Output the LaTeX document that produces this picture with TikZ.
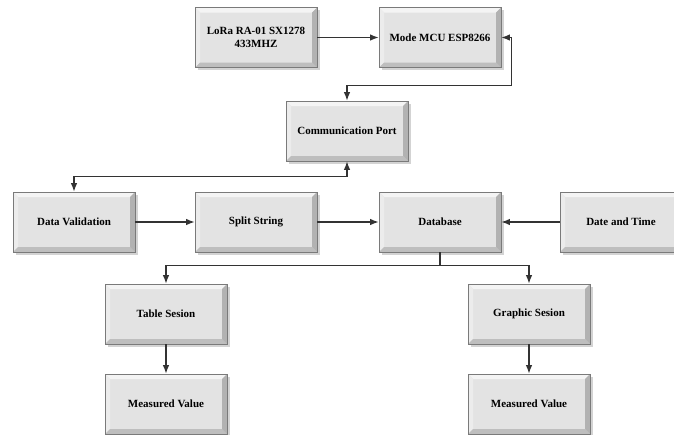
\documentclass[tikz,border=0pt]{standalone}
\usepackage{fontspec}
\setmainfont{Liberation Serif}
\usetikzlibrary{arrows.meta,shadows}

\definecolor{boxface}{HTML}{E3E3E3}
\definecolor{boxtop}{HTML}{F4F4F4}
\definecolor{boxleft}{HTML}{ECECEC}
\definecolor{boxbottom}{HTML}{BEBEBE}
\definecolor{boxright}{HTML}{B2B2B2}
\definecolor{boxline}{HTML}{7A7A7A}
\definecolor{wire}{HTML}{333333}

\tikzset{
  block/.style={draw=boxline, line width=0.8pt, fill=boxface,
    minimum width=122pt, minimum height=60pt, inner sep=0pt,
    align=center, font=\bfseries\fontsize{11}{13}\selectfont,
    drop shadow={shadow xshift=2.5pt, shadow yshift=-2.5pt, opacity=0.35},
    path picture={
      \fill[boxtop] (path picture bounding box.north west) -- (path picture bounding box.north east)
        -- ([shift={(-5pt,-5pt)}]path picture bounding box.north east)
        -- ([shift={(5pt,-5pt)}]path picture bounding box.north west) -- cycle;
      \fill[boxleft] (path picture bounding box.north west) -- (path picture bounding box.south west)
        -- ([shift={(5pt,5pt)}]path picture bounding box.south west)
        -- ([shift={(5pt,-5pt)}]path picture bounding box.north west) -- cycle;
      \fill[boxbottom] (path picture bounding box.south west) -- (path picture bounding box.south east)
        -- ([shift={(-5pt,5pt)}]path picture bounding box.south east)
        -- ([shift={(5pt,5pt)}]path picture bounding box.south west) -- cycle;
      \fill[boxright] (path picture bounding box.north east) -- (path picture bounding box.south east)
        -- ([shift={(-5pt,5pt)}]path picture bounding box.south east)
        -- ([shift={(-5pt,-5pt)}]path picture bounding box.north east) -- cycle;
    }},
  wire/.style={draw=wire, line width=1.1pt, -{Latex[length=8.5pt,width=6.5pt]}},
  wire2/.style={draw=wire, line width=1.1pt, {Latex[length=8.5pt,width=6.5pt]}-{Latex[length=8.5pt,width=6.5pt]}}
}

\begin{document}
\begin{tikzpicture}[x=1pt,y=-1pt]
\useasboundingbox (0,0) rectangle (674,434);

% top row
\node[block] (lora) at (256,37.5) {LoRa RA-01 SX1278\\433MHZ};
\node[block] (mcu) at (440,37.5) {Mode MCU ESP8266};
\node[block] (port) at (347,131) {Communication Port};

% middle row
\node[block] (valid) at (74,222) {Data Validation};
\node[block] (split) at (256,222) {Split String};
\node[block] (db) at (440,222) {Database};
\node[block] (clock) at (621,222) {Date and Time};

% bottom rows
\node[block] (table) at (166,314) {Table Sesion};
\node[block] (graphic) at (529,314) {Graphic Sesion};
\node[block] (tableval) at (166,404) {Measured Value};
\node[block] (graphicval) at (529,404) {Measured Value};

% connectors
\draw[wire] (lora.east) -- (mcu.west);
\draw[wire2] (mcu.east) -| ++(10,48) -| (port.north);
\draw[wire2] (port.south) -- ++(0,15) -| (valid.north);
\draw[wire] (valid.east) -- (split.west);
\draw[wire] (split.east) -- (db.west);
\draw[wire] (clock.west) -- (db.east);
\draw[wire] (db.south) -- ++(0,13) -| (table.north);
\draw[wire] (db.south) -- ++(0,13) -| (graphic.north);
\draw[wire] (table.south) -- (tableval.north);
\draw[wire] (graphic.south) -- (graphicval.north);
\end{tikzpicture}
\end{document}
